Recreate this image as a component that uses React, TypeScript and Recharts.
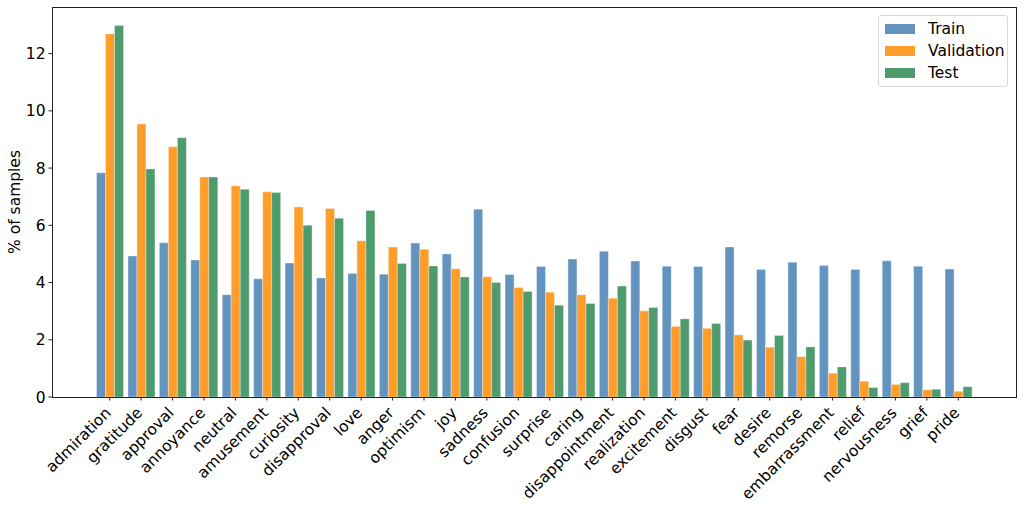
import * as React from 'react'
import { BarChart, Bar, XAxis, YAxis } from 'recharts'

const emotions = [
  'admiration', 'gratitude', 'approval', 'annoyance', 'neutral', 'amusement', 'curiosity',
  'disapproval', 'love', 'anger', 'optimism', 'joy', 'sadness', 'confusion', 'surprise',
  'caring', 'disappointment', 'realization', 'excitement', 'disgust', 'fear', 'desire',
  'remorse', 'embarrassment', 'relief', 'nervousness', 'grief', 'pride',
]

const trainPct = [
  7.84, 4.93, 5.39, 4.79, 3.57, 4.13, 4.68, 4.16, 4.32, 4.29, 5.38, 5.0, 6.56, 4.28,
  4.56, 4.82, 5.09, 4.75, 4.57, 4.56, 5.24, 4.46, 4.71, 4.6, 4.46, 4.76, 4.57, 4.47,
]
const validationPct = [
  12.69, 9.54, 8.75, 7.69, 7.38, 7.17, 6.64, 6.59, 5.46, 5.24, 5.16, 4.48, 4.2, 3.83,
  3.66, 3.57, 3.45, 3.01, 2.47, 2.4, 2.17, 1.74, 1.41, 0.83, 0.55, 0.44, 0.25, 0.2,
]
const testPct = [
  12.98, 7.97, 9.06, 7.69, 7.26, 7.15, 6.0, 6.25, 6.52, 4.67, 4.58, 4.19, 4.0, 3.69,
  3.21, 3.27, 3.88, 3.13, 2.73, 2.57, 1.99, 2.15, 1.75, 1.05, 0.33, 0.5, 0.27, 0.36,
]

const yTicks = [0, 2, 4, 6, 8, 10, 12]

const series = [
  { key: 'train', label: 'Train', color: '#6394c0' },
  { key: 'validation', label: 'Validation', color: '#ff9d2b' },
  { key: 'test', label: 'Test', color: '#4e9b6d' },
]

const FONT = '"DejaVu Sans", sans-serif'
const FS = 15.5

const data = emotions.map((name, i) => ({
  name,
  train: trainPct[i],
  validation: validationPct[i],
  test: testPct[i],
}))

// plot box inside the 1024x508 chart
const plot = { left: 52, top: 7, right: 1016, bottom: 397 }

// rotated category labels, right edge hanging off the tick
const RotatedTick = ({ x, y, payload }: any) => (
  <g transform={`translate(${x - 6},${y + 3}) rotate(-45)`}>
    <text x={0} y={0} dy="0.75em" textAnchor="end" fontSize={FS} fontFamily={FONT} fill="#000">
      {payload.value}
    </text>
  </g>
)

const LegendBox = () => (
  <div
    style={{
      position: 'absolute',
      left: 878,
      top: 15,
      width: 130,
      height: 72,
      boxSizing: 'border-box',
      border: '1px solid #d9d9d9',
      borderRadius: 3,
      background: 'rgba(255,255,255,0.8)',
      padding: '2px 0 0 6px',
      fontFamily: FONT,
      fontSize: FS,
    }}
  >
    {series.map(s => (
      <div key={s.key} style={{ display: 'flex', alignItems: 'center', height: 22 }}>
        <span style={{ width: 30, height: 10, background: s.color, display: 'inline-block' }} />
        <span style={{ marginLeft: 13, color: '#000' }}>{s.label}</span>
      </div>
    ))}
  </div>
)

export default function App() {
  return (
    <div style={{ position: 'absolute', left: 0, top: 0, width: 1024, height: 508, background: '#fff' }}>
      <BarChart
        width={1024}
        height={508}
        data={data}
        margin={{ top: plot.top, right: 1024 - plot.right, left: 0, bottom: 0 }}
        barCategoryGap="8%"
        barGap={0}
      >
        <XAxis
          dataKey="name"
          interval={0}
          padding={{ left: 42, right: 42 }}
          height={508 - plot.bottom}
          tick={<RotatedTick />}
          tickSize={3.5}
          axisLine={false}
          tickLine={{ stroke: '#222' }}
        />
        <YAxis
          width={plot.left}
          domain={[0, 13.63]}
          ticks={yTicks}
          allowDataOverflow
          tickSize={3.5}
          tickMargin={3}
          tick={{ fontSize: FS, fontFamily: FONT, fill: '#000' }}
          axisLine={false}
          tickLine={{ stroke: '#222' }}
          label={({ viewBox }: any) => (
            <text
              transform={`rotate(-90, 20, ${viewBox.y + viewBox.height / 2})`}
              x={20}
              y={viewBox.y + viewBox.height / 2}
              textAnchor="middle"
              fontSize={FS}
              fontFamily={FONT}
              fill="#000"
            >
              % of samples
            </text>
          )}
        />
        {series.map(s => (
          <Bar
            key={s.key}
            dataKey={s.key}
            name={s.label}
            fill={s.color}
            stroke="rgba(255,255,255,0.55)"
            strokeWidth={0.6}
            isAnimationActive={false}
          />
        ))}
      </BarChart>
      {/* axes frame: all four spines */}
      <div
        style={{
          position: 'absolute',
          left: plot.left - 0.5,
          top: plot.top - 0.5,
          width: plot.right - plot.left + 1,
          height: plot.bottom - plot.top + 1,
          boxSizing: 'border-box',
          border: '1px solid #222',
          pointerEvents: 'none',
        }}
      />
      <LegendBox />
    </div>
  )
}
